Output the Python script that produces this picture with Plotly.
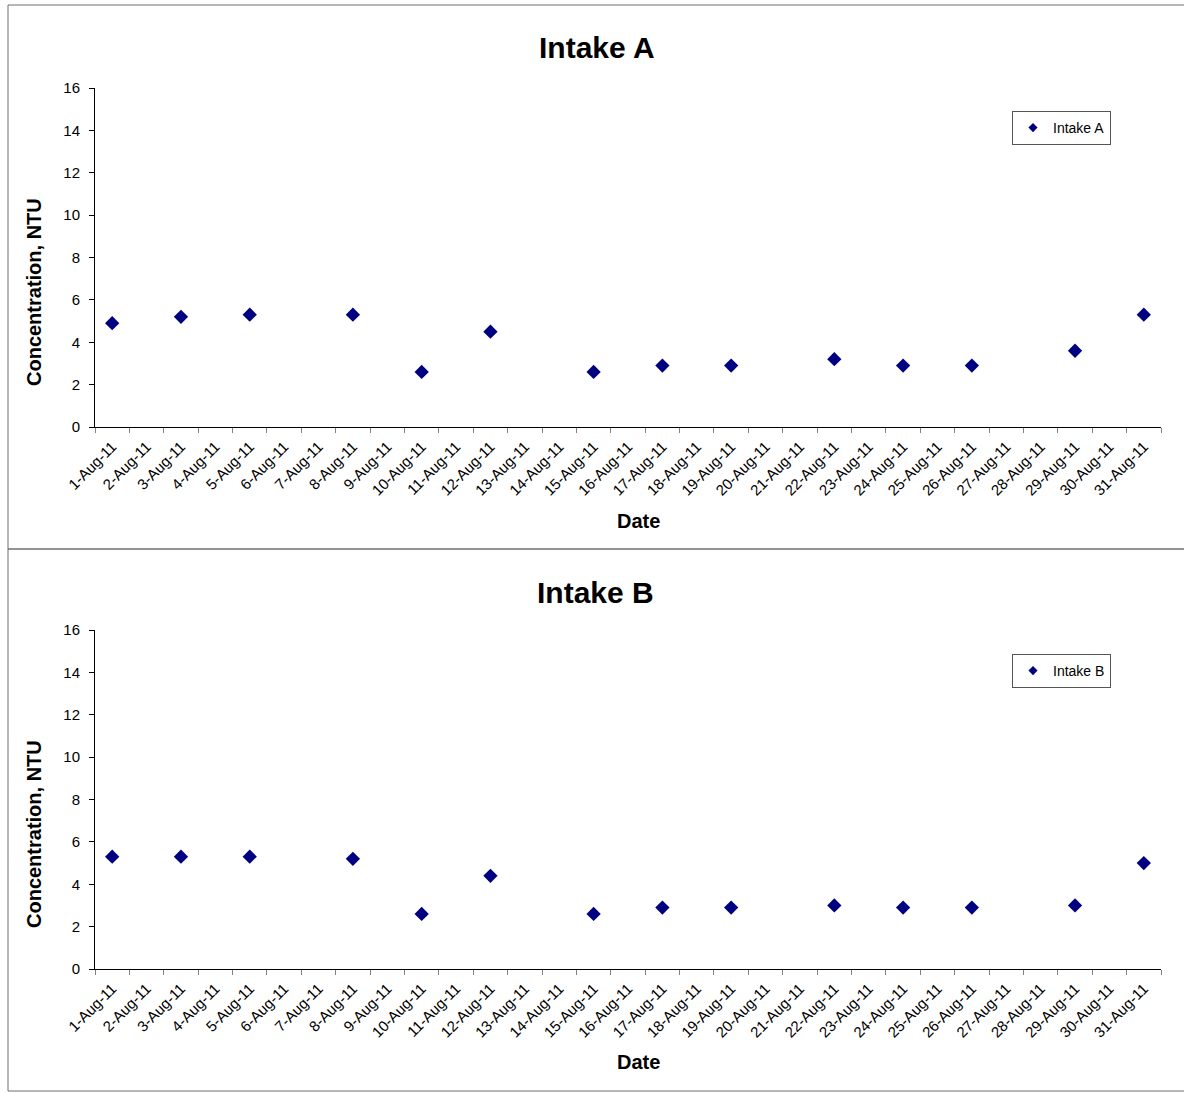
import plotly.graph_objects as go

dates = [f"{d}-Aug-11" for d in range(1, 32)]
vals_a = {1: 4.9, 3: 5.2, 5: 5.3, 8: 5.3, 10: 2.6, 12: 4.5, 15: 2.6, 17: 2.9,
          19: 2.9, 22: 3.2, 24: 2.9, 26: 2.9, 29: 3.6, 31: 5.3}
vals_b = {1: 5.3, 3: 5.3, 5: 5.3, 8: 5.2, 10: 2.6, 12: 4.4, 15: 2.6, 17: 2.9,
          19: 2.9, 22: 3.0, 24: 2.9, 26: 2.9, 29: 3.0, 31: 5.0}
intake_a = [vals_a.get(d) for d in range(1, 32)]
intake_b = [vals_b.get(d) for d in range(1, 32)]
y_ticks = [0, 2, 4, 6, 8, 10, 12, 14, 16]

W, H = 1184, 1093
def px(x):
    return x / W
def py(y):
    return 1 - y / H

FONT = "Liberation Sans, Arial, sans-serif"
NAVY = "#000080"

fig = go.Figure()
fig.add_trace(go.Scatter(x=dates, y=intake_a, mode="markers", name="Intake A",
                         marker=dict(symbol="diamond", size=11, color=NAVY),
                         xaxis="x", yaxis="y", showlegend=False))
fig.add_trace(go.Scatter(x=dates, y=intake_b, mode="markers", name="Intake B",
                         marker=dict(symbol="diamond", size=11, color=NAVY),
                         xaxis="x2", yaxis="y2", showlegend=False))
# legend entries (small key markers as in the original)
fig.add_trace(go.Scatter(x=[None], y=[None], mode="markers", name="Intake A",
                         marker=dict(symbol="diamond", size=7, color=NAVY),
                         xaxis="x", yaxis="y", legend="legend"))
fig.add_trace(go.Scatter(x=[None], y=[None], mode="markers", name="Intake B",
                         marker=dict(symbol="diamond", size=7, color=NAVY),
                         xaxis="x2", yaxis="y2", legend="legend2"))

xcommon = dict(type="category", categoryorder="array", categoryarray=dates,
               range=[-0.5, 30.5], tickangle=-45, tickson="boundaries",
               ticks="outside", ticklen=5, tickcolor="#808080",
               showline=True, linecolor="black", linewidth=1,
               showgrid=False, zeroline=False, automargin=False,
               ticklabelstandoff=4,
               tickfont=dict(family=FONT, size=15, color="black"))
ycommon = dict(range=[0, 16], tickvals=y_ticks, ticks="outside", ticklen=5,
               tickcolor="black", showline=True, linecolor="black", linewidth=1,
               showgrid=False, zeroline=False, automargin=False,
               ticklabelstandoff=6,
               tickfont=dict(family=FONT, size=15, color="black"))

legcommon = dict(bgcolor="white", bordercolor="#555555", borderwidth=1,
                 font=dict(family=FONT, size=14, color="black"),
                 xanchor="left", yanchor="top", itemwidth=30,
                 tracegroupgap=0)

fig.update_layout(
    width=W, height=H, margin=dict(l=0, r=0, t=0, b=0, autoexpand=False),
    paper_bgcolor="white", plot_bgcolor="white",
    showlegend=True,
    xaxis=dict(domain=[px(95), px(1161)], anchor="y", **xcommon),
    yaxis=dict(domain=[py(427), py(88)], anchor="x", **ycommon),
    xaxis2=dict(domain=[px(95), px(1161)], anchor="y2", **xcommon),
    yaxis2=dict(domain=[py(969), py(630)], anchor="x2", **ycommon),
    legend=dict(x=px(1012), y=py(111), **legcommon),
    legend2=dict(x=px(1012), y=py(654), **legcommon),
)

# outer frames
for (y0, y1) in [(5, 549), (549, 1091)]:
    fig.add_shape(type="rect", xref="paper", yref="paper",
                  x0=px(8), x1=px(1200), y0=py(y1), y1=py(y0),
                  line=dict(color="#6e6e6e", width=1), layer="below")

annots = [
    ("Intake A", 597, 48, 30, 0),
    ("Intake B", 595, 592, 30, 0),
    ("Date", 638, 521, 20, 0),
    ("Date", 638, 1062, 20, 0),
    ("Concentration, NTU", 34, 292, 20, -90),
    ("Concentration, NTU", 34, 834, 20, -90),
]
for text, x, y, size, ang in annots:
    fig.add_annotation(text=f"<b>{text}</b>", x=px(x), y=py(y), xref="paper", yref="paper",
                       showarrow=False, textangle=ang, xanchor="center", yanchor="middle",
                       font=dict(family=FONT, size=size, color="black"))

fig.write_html("out.html", config={"displayModeBar": False},
               post_script="document.body.style.margin='0';document.body.style.overflow='hidden';")
